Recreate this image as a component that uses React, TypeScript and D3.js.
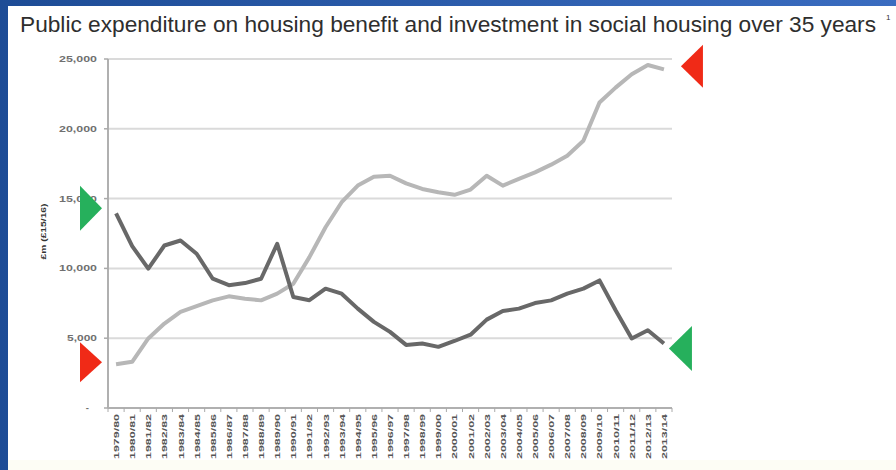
import React from "react";
import * as d3 from "d3";

const years: string[] = [
  "1979/80","1980/81","1981/82","1982/83","1983/84","1984/85","1985/86","1986/87","1987/88","1988/89",
  "1989/90","1990/91","1991/92","1992/93","1993/94","1994/95","1995/96","1996/97","1997/98","1998/99",
  "1999/00","2000/01","2001/02","2002/03","2003/04","2004/05","2005/06","2006/07","2007/08","2008/09",
  "2009/10","2010/11","2011/12","2012/13","2013/14",
];

// Investment in social housing (dark line)
const investment: number[] = [
  13950, 11600, 9980, 11640, 12000, 11050, 9260, 8800, 8950, 9260,
  11760, 7950, 7720, 8550, 8190, 7120, 6170, 5450, 4520, 4620,
  4380, 4800, 5250, 6330, 6950, 7120, 7520, 7710, 8190, 8550,
  9140, 7000, 4980, 5570, 4620,
];

// Housing benefit (light line)
const benefit: number[] = [
  3140, 3310, 4980, 6050, 6880, 7290, 7710, 8000, 7830, 7710,
  8190, 8900, 10810, 12950, 14740, 15930, 16570, 16640, 16090, 15690,
  15450, 15270, 15650, 16640, 15930, 16410, 16880, 17430, 18070, 19140,
  21880, 22950, 23910, 24570, 24260,
];

const yTicks: number[] = [0, 5000, 10000, 15000, 20000, 25000];
const yTickLabels: string[] = ["-", "5,000", "10,000", "15,000", "20,000", "25,000"];

const title = "Public expenditure on housing benefit and investment in social housing over 35 years";
const yTitle = "£m (£15/16)";

const W = 896;
const H = 470;
const plot = { left: 108, right: 672, top: 59, bottom: 408 };

export default function App() {
  const x = d3.scaleBand<string>().domain(years).range([plot.left, plot.right]);
  const y = d3.scaleLinear().domain([0, 25000]).range([plot.bottom, plot.top]);
  const cx = (i: number) => (x(years[i]) as number) + x.bandwidth() / 2;

  const line = d3
    .line<number>()
    .x((_, i) => cx(i))
    .y((d) => y(d));

  const n = years.length;
  const tri = (tx: number, ty: number, dir: 1 | -1, w: number, h: number) =>
    `M${tx},${ty} L${tx - dir * w},${ty - h / 2} L${tx - dir * w},${ty + h / 2} Z`;

  return (
    <svg
      width={W}
      height={H}
      style={{ position: "absolute", left: 0, top: 0, display: "block" }}
      fontFamily="'Liberation Sans', Arial, sans-serif"
    >
      <defs>
        <linearGradient id="blue" x1="0" y1="0" x2="1" y2="0">
          <stop offset="0" stopColor="#1d4c96" />
          <stop offset="1" stopColor="#3a6cc0" />
        </linearGradient>
      </defs>
      <rect x={0} y={0} width={W} height={H} fill="url(#blue)" />
      <rect x={8} y={6} width={W - 8} height={H - 6} fill="#ffffff" />
      <rect x={8} y={460} width={W - 8} height={10} fill="#fdfdf5" />

      {/* title */}
      <text
        x={20}
        y={32}
        fontSize={22}
        fill="#2e2e2e"
        textLength={856}
        lengthAdjust="spacingAndGlyphs"
      >
        {title}
      </text>
      <text x={886} y={20} fontSize={8} fill="#333">1</text>

      {/* gridlines */}
      {yTicks.filter((t) => t > 0).map((t) => (
        <line key={t} x1={plot.left} x2={plot.right} y1={y(t)} y2={y(t)} stroke="#dadada" strokeWidth={2} />
      ))}

      {/* y axis */}
      <line x1={plot.left} x2={plot.left} y1={plot.top} y2={plot.bottom} stroke="#b0b0b0" strokeWidth={2} />
      {yTicks.map((t, i) => (
        <g key={t}>
          <line x1={plot.left - 4} x2={plot.left} y1={y(t)} y2={y(t)} stroke="#aaa" strokeWidth={1.5} />
          <text
            x={t === 0 ? 89 : 97}
            y={y(t) + 3}
            fontSize={9.5}
            fontWeight="bold"
            textAnchor="end"
            fill="#707070"
            textLength={t === 0 ? undefined : t >= 10000 ? 38 : 30}
            lengthAdjust="spacingAndGlyphs"
          >
            {yTickLabels[i]}
          </text>
        </g>
      ))}
      <text
        transform={`translate(46,${(plot.top + plot.bottom) / 2 - 2}) rotate(-90)`}
        fontSize={8}
        fontWeight="bold"
        textAnchor="middle"
        fill="#333"
        textLength={56}
        lengthAdjust="spacingAndGlyphs"
      >
        {yTitle}
      </text>

      {/* x axis */}
      <line x1={plot.left} x2={plot.right} y1={plot.bottom} y2={plot.bottom} stroke="#b0b0b0" strokeWidth={2} />
      {years.map((yr, i) => (
        <g key={yr}>
          <line
            x1={x(yr) as number}
            x2={x(yr) as number}
            y1={plot.bottom}
            y2={plot.bottom + 4}
            stroke="#aaa"
            strokeWidth={1}
          />
          <text
            transform={`translate(${cx(i) + 3},${plot.bottom + 6}) rotate(-90)`}
            fontSize={8}
            fontWeight="bold"
            textAnchor="end"
            fill="#555"
            textLength={45}
            lengthAdjust="spacingAndGlyphs"
          >
            {yr}
          </text>
        </g>
      ))}
      <line x1={plot.right} x2={plot.right} y1={plot.bottom} y2={plot.bottom + 4} stroke="#aaa" strokeWidth={1} />

      {/* lines */}
      <path d={line(benefit) || ""} fill="none" stroke="#b7b7b7" strokeWidth={4} strokeLinejoin="round" />
      <path d={line(investment) || ""} fill="none" stroke="#686868" strokeWidth={4} strokeLinejoin="round" />

      {/* annotation triangles */}
      <path d={tri(plot.left - 6, y(investment[0]) - 5, 1, 22, 45)} fill="#26b05c" />
      <path d={tri(plot.left - 6, y(benefit[0]) - 2, 1, 22, 40)} fill="#f02a17" />
      <path d={tri(cx(n - 1) + 17, y(benefit[n - 1]) - 3, -1, 22, 43)} fill="#f02a17" />
      <path d={tri(cx(n - 1) + 5, y(investment[n - 1]) + 5, -1, 23, 45)} fill="#26b05c" />
    </svg>
  );
}
